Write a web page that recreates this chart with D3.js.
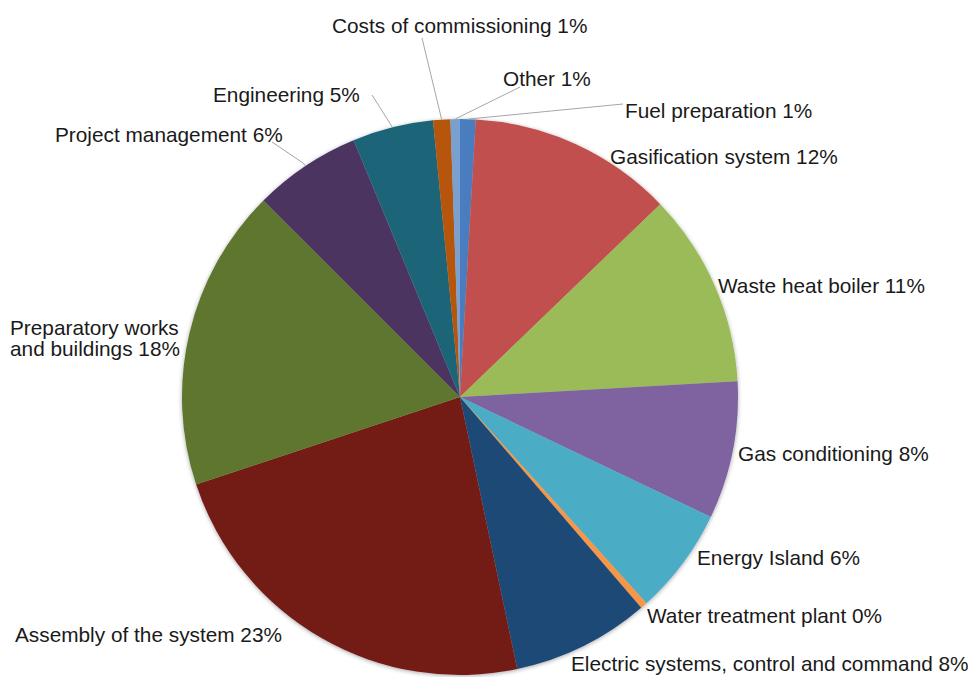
<!DOCTYPE html>
<html>
<head>
<meta charset="utf-8">
<script src="https://cdn.jsdelivr.net/npm/d3@7"></script>
<style>
  html, body { margin: 0; padding: 0; background: #fff; }
  svg { display: block; }
  text { font-family: "Liberation Sans", Arial, sans-serif; font-size: 20.8px; fill: #1a1a1a; }
</style>
</head>
<body>
<svg id="chart" width="968" height="677"></svg>
<script>
// Cost breakdown of the plant (share of total investment, %)
const categories = [
  "Fuel preparation",
  "Gasification system",
  "Waste heat boiler",
  "Gas conditioning",
  "Energy Island",
  "Water treatment plant",
  "Electric systems, control and command",
  "Assembly of the system",
  "Preparatory works and buildings",
  "Project management",
  "Engineering",
  "Costs of commissioning",
  "Other"
];
const values = [0.9, 11.9, 11.3, 8.0, 6.2, 0.4, 8.0, 23.2, 17.6, 6.25, 4.7, 1.0, 0.55];
const colors = [
  "#4a7dbf", "#c0504d", "#9bbb59", "#7f63a1", "#4bacc6", "#f79646",
  "#1f4a75", "#731b19", "#5e762e", "#4b3661", "#1b6579", "#b6570c", "#7aa0d0"
];

// Label placement: text anchor point, line breaks and optional leader-line end
const labelLayout = {
  "Fuel preparation":        { x: 625, y: 118, anchor: "start", leader: [[623, 104]] },
  "Gasification system":     { x: 610, y: 164, anchor: "start" },
  "Waste heat boiler":       { x: 718, y: 293, anchor: "start" },
  "Gas conditioning":        { x: 738, y: 461, anchor: "start" },
  "Energy Island":           { x: 697, y: 565, anchor: "start" },
  "Water treatment plant":   { x: 647, y: 623, anchor: "start" },
  "Electric systems, control and command": { x: 571, y: 671, anchor: "start" },
  "Assembly of the system":  { x: 15,  y: 642, anchor: "start" },
  "Preparatory works and buildings": { x: 10, y: 335, anchor: "start", lines: ["Preparatory works", "and buildings"] },
  "Project management":      { x: 55,  y: 142, anchor: "start", leader: [[272, 142], [303, 163]] },
  "Engineering":             { x: 213, y: 102, anchor: "start", leader: [[372, 95], [391, 125]] },
  "Costs of commissioning":  { x: 332, y: 33,  anchor: "start", leader: [[422, 38]] },
  "Other":                   { x: 503, y: 86,  anchor: "start", leader: [[520, 87]] }
};

const width = 968, height = 677;
const cx = 460, cy = 397, radius = 278;

const svg = d3.select("#chart");

const defs = svg.append("defs");
const shadow = defs.append("filter").attr("id", "pieShadow")
  .attr("x", "-10%").attr("y", "-10%").attr("width", "120%").attr("height", "120%");
shadow.append("feDropShadow")
  .attr("dx", 0).attr("dy", 1).attr("stdDeviation", 2.2)
  .attr("flood-color", "#000").attr("flood-opacity", 0.35);

const data = categories.map((name, i) => ({ name, value: values[i], color: colors[i] }));

const pie = d3.pie().sort(null).value(d => d.value).startAngle(0).endAngle(2 * Math.PI);
const arcs = pie(data);
const arc = d3.arc().innerRadius(0).outerRadius(radius);

const g = svg.append("g").attr("transform", `translate(${cx},${cy})`);

g.append("g").attr("filter", "url(#pieShadow)")
  .selectAll("path")
  .data(arcs)
  .join("path")
  .attr("d", arc)
  .attr("fill", d => d.data.color);

// Leader lines from the slice rim to the label
const rimPoint = d => {
  const a = (d.startAngle + d.endAngle) / 2;
  return [cx + Math.sin(a) * radius, cy - Math.cos(a) * radius];
};
const lineGen = d3.line();
svg.append("g").selectAll("path")
  .data(arcs.filter(d => labelLayout[d.data.name].leader))
  .join("path")
  .attr("d", d => lineGen([rimPoint(d), ...labelLayout[d.data.name].leader.slice().reverse()]))
  .attr("fill", "none")
  .attr("stroke", "#a6a6a6")
  .attr("stroke-width", 1);

// Category labels with rounded percentages
const fmt = v => Math.round(v) + "%";
const labels = svg.append("g").selectAll("text")
  .data(arcs)
  .join("text")
  .attr("x", d => labelLayout[d.data.name].x)
  .attr("y", d => labelLayout[d.data.name].y)
  .attr("text-anchor", d => labelLayout[d.data.name].anchor);

labels.each(function(d) {
  const L = labelLayout[d.data.name];
  const t = d3.select(this);
  if (L.lines) {
    L.lines.forEach((ln, i) => {
      t.append("tspan")
        .attr("x", L.x)
        .attr("dy", i === 0 ? 0 : 21)
        .text(i === L.lines.length - 1 ? `${ln} ${fmt(d.data.value)}` : ln);
    });
  } else {
    t.text(`${d.data.name} ${fmt(d.data.value)}`);
  }
});
</script>
</body>
</html>
